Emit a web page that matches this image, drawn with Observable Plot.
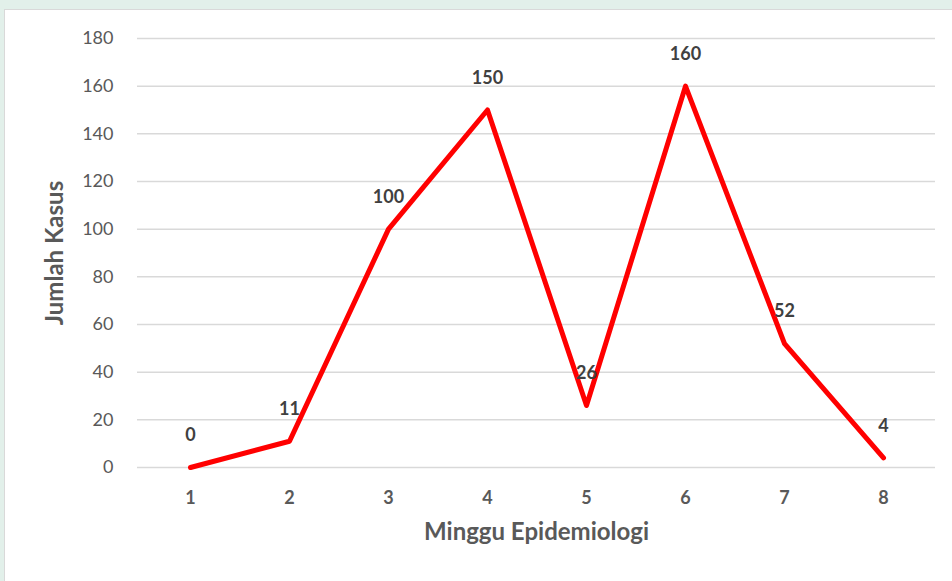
<!DOCTYPE html>
<html>
<head>
<meta charset="utf-8">
<script src="https://cdn.jsdelivr.net/npm/d3@7"></script>
<script src="https://cdn.jsdelivr.net/npm/@observablehq/plot@0.6"></script>
<style>
  html, body { margin: 0; padding: 0; }
  body { width: 952px; height: 581px; background: #e2f0ea; position: relative; overflow: hidden; font-family: Lato, "Open Sans", sans-serif; }
  #panel { position: absolute; left: 4px; top: 9px; width: 960px; height: 600px; background: #ffffff; border-left: 1px solid #d9d9d9; border-top: 1px solid #d9d9d9; }
  #chart { position: absolute; left: 0; top: 0; }
</style>
</head>
<body>
<div id="panel"></div>
<div id="chart"></div>
<script>
const weeks = ["1", "2", "3", "4", "5", "6", "7", "8"];
const cases = [0, 11, 100, 150, 26, 160, 52, 4];
const yTicks = [0, 20, 40, 60, 80, 100, 120, 140, 160, 180];

const data = weeks.map((w, i) => ({week: w, cases: cases[i]}));

const chart = Plot.plot({
  width: 952,
  height: 581,
  marginLeft: 137,
  marginRight: 17,
  marginTop: 38,
  marginBottom: 114,
  style: {background: "transparent", fontFamily: "Lato, 'Open Sans', sans-serif"},
  x: {type: "point", domain: weeks, padding: 0.5, label: null},
  y: {domain: [0, 180], ticks: yTicks, label: null},
  marks: [
    Plot.gridY(yTicks, {stroke: "#d9d9d9", strokeOpacity: 1, strokeWidth: 1.5}),
    Plot.axisY(yTicks, {tickSize: 0, tickPadding: 24, fontSize: 18, fill: "#595959", label: null}),
    Plot.axisX(weeks, {tickSize: 0, tickPadding: 24, fontSize: 18, fontWeight: "bold", fill: "#595959", label: null}),
    Plot.line(data, {x: "week", y: "cases", stroke: "#ff0000", strokeWidth: 5, strokeLinejoin: "round", strokeLinecap: "round"}),
    Plot.text(data, {x: "week", y: "cases", text: d => String(d.cases), dy: -32, fontSize: 18, fontWeight: "bold", fill: "#404040"}),
    Plot.text(["Jumlah Kasus"], {frameAnchor: "left", textAnchor: "middle", dx: -82, rotate: -90, fontSize: 24, fontWeight: "bold", fill: "#595959"}),
    Plot.text(["Minggu Epidemiologi"], {frameAnchor: "bottom", textAnchor: "middle", dy: 72, fontSize: 24, fontWeight: "bold", fill: "#595959"})
  ]
});
document.getElementById("chart").appendChild(chart);
</script>
</body>
</html>
